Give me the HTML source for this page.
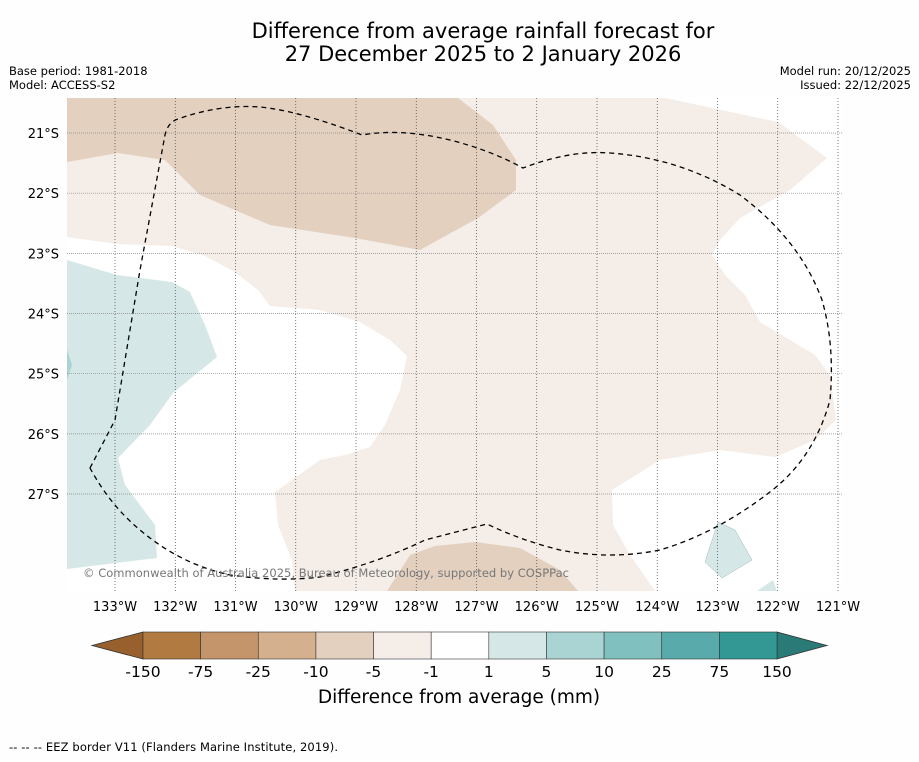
<!DOCTYPE html>
<html><head><meta charset="utf-8"><style>
body{margin:0;background:#fff;width:919px;height:758px;overflow:hidden;font-family:"DejaVu Sans","Liberation Sans",sans-serif}
svg text{font-family:"DejaVu Sans","Liberation Sans",sans-serif}
</style></head><body>
<svg id="c" width="919" height="758" xmlns="http://www.w3.org/2000/svg">
<rect width="919" height="758" fill="#fefefe"/>
<text x="483" y="38" font-size="21" text-anchor="middle">Difference from average rainfall forecast for</text>
<text x="483" y="61" font-size="21" text-anchor="middle">27 December 2025 to 2 January 2026</text>
<text x="9" y="75" font-size="11.5">Base period: 1981-2018</text>
<text x="9" y="89" font-size="11.5">Model: ACCESS-S2</text>
<text x="911" y="75" font-size="11.5" text-anchor="end">Model run: 20/12/2025</text>
<text x="911" y="89" font-size="11.5" text-anchor="end">Issued: 22/12/2025</text>
<defs><clipPath id="mc"><rect x="67" y="98" width="775" height="493"/></clipPath></defs>
<g clip-path="url(#mc)">
<rect x="67" y="98" width="775" height="493" fill="#f4ede8"/>
<polygon fill="#fff" points="67,237 117,244 172,246 205,256 235,272 258,290 270,306 320,310 360,322 390,340 407,356 400,390 385,425 370,447 345,455 320,460 275,492 278,525 292,560 295,591 67,591"/>
<polygon fill="#fff" points="665,98 842,98 842,591 655,591 630,555 613,525 612,490 660,460 720,450 775,457 815,440 836,420 830,375 815,355 760,322 745,295 725,275 712,255 720,240 740,218 790,190 827,158 778,122"/>
<polygon fill="#e3d0bf" points="67,98 458,98 493,125 516,160 516,190 478,218 420,250 355,238 270,225 200,195 165,160 118,153 67,162"/>
<polygon fill="#e3d0bf" points="387,591 410,555 435,546 475,542 520,548 560,570 578,591"/>
<polygon fill="#d5e8e7" points="67,260 117,275 172,282 190,292 205,325 217,357 195,375 173,393 150,425 118,458 125,485 155,525 157,558 67,569"/>
<polygon fill="#aad4d3" points="67,350 72,365 67,380"/>
<polygon fill="#d5e8e7" stroke="#9bb" stroke-width="0.5" points="705,562 718,522 735,530 752,560 722,578"/>
<polygon fill="#d5e8e7" points="757,591 773,580 777,591"/>
<g id="grid"></g>
<path fill="none" stroke="#000" stroke-width="1.3" stroke-dasharray="5,4" d="M90,468 L115,420 L140,270 L165,135 Q168,122 178,119 Q220,104 260,107 Q300,111 362,135 Q400,128 450,140 Q490,150 523,168 Q570,150 610,153 Q680,158 740,195 Q800,240 822,300 Q835,345 830,400 Q815,455 775,488 Q720,532 660,550 Q610,560 560,550 Q520,540 487,524 L425,540 Q380,562 320,577 Q280,582 230,575 Q180,564 140,530 Q110,505 90,468 Z"/>
<text x="83" y="577" font-size="11.5" fill="#777" textLength="486">© Commonwealth of Australia 2025, Bureau of Meteorology, supported by COSPPac</text>
</g>
<g id="axes"></g>
<g id="cbar"></g>
<text x="459" y="703" font-size="18.5" text-anchor="middle">Difference from average (mm)</text>
<text x="9" y="751" font-size="11.5" textLength="329">-- -- -- EEZ border V11 (Flanders Marine Institute, 2019).</text>
</svg>
<script>
const lonTicks=[133,132,131,130,129,128,127,126,125,124,123,122,121];
const latTicks=[21,22,23,24,25,26,27];
const cbarLabels=["-150","-75","-25","-10","-5","-1","1","5","10","25","75","150"];
const cbarColors=["#b07a40","#c4956a","#d5b08f","#e3d0bf","#f4ede8","#ffffff","#d5e8e7","#aad4d3","#80c1bf","#58abaa","#339893"];
const NS="http://www.w3.org/2000/svg";
function xLon(l){return 115+(133-l)*60.25;}
function yLat(l){return 133+(l-21)*60.17;}
function mk(t,a,p){const e=document.createElementNS(NS,t);for(const k in a)e.setAttribute(k,a[k]);p.appendChild(e);return e;}
const g=document.getElementById('grid'),ax=document.getElementById('axes'),cb=document.getElementById('cbar');
lonTicks.forEach(l=>{const x=xLon(l);
 const ln=mk('line',{x1:x,x2:x,y1:98,y2:591,stroke:'#444','stroke-width':0.7,'stroke-dasharray':'1,2'},g);
 
 
 const t=mk('text',{x:x,y:611,'font-size':13,'text-anchor':'middle'},ax);t.textContent=l+'°W';
 
 });
latTicks.forEach(l=>{const y=yLat(l);
 const ln=mk('line',{x1:67,x2:842,y1:y,y2:y,stroke:'#888','stroke-width':0.7,'stroke-dasharray':'1,1'},g);
 
 
 const t=mk('text',{x:59,y:y+5,'font-size':13,'text-anchor':'end'},ax);t.textContent=l+'°S';
 
 });
const x0=143,x1=777,y0=632,y1=659,w=(x1-x0)/cbarColors.length;
const lt=mk('polygon',{points:`${x0},${y0} 92,645.5 ${x0},${y1}`,fill:'#97602c',stroke:'#333','stroke-width':0.8},cb);


const rt=mk('polygon',{points:`${x1},${y0} 827,645.5 ${x1},${y1}`,fill:'#2a7a78',stroke:'#333','stroke-width':0.8},cb);


cbarColors.forEach((c,i)=>{const r=mk('rect',{x:x0+i*w,y:y0,width:w,height:y1-y0,fill:c,stroke:'#333','stroke-width':0.6},cb);
 
 });
cbarLabels.forEach((s,i)=>{const t=mk('text',{x:x0+i*w,y:677,'font-size':15.5,'text-anchor':'middle'},cb);t.textContent=s;
 
 });
</script>
</body></html>
